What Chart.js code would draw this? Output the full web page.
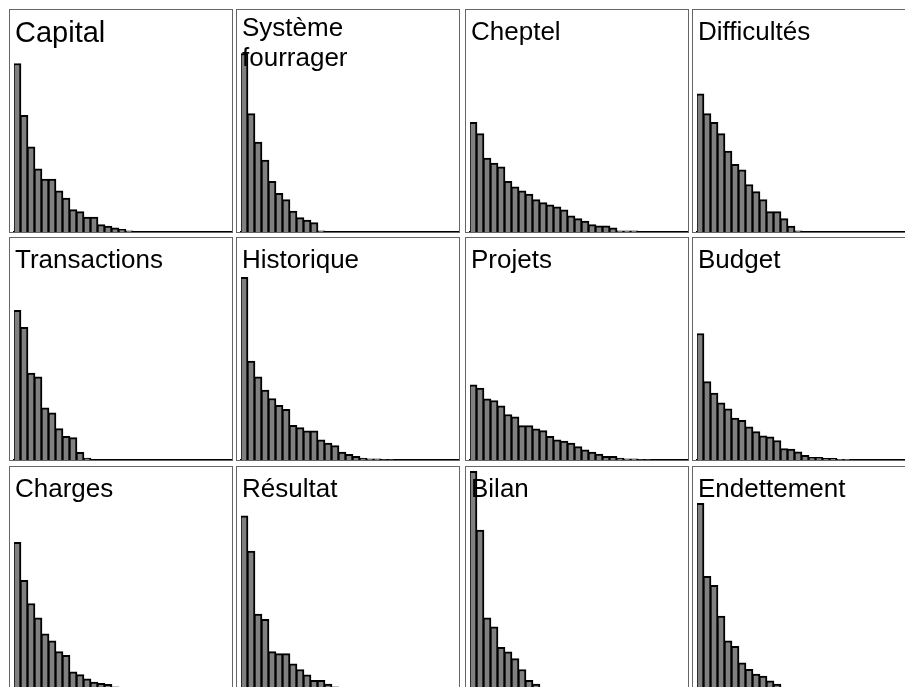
<!DOCTYPE html>
<html>
<head>
<meta charset="utf-8">
<script src="https://cdn.jsdelivr.net/npm/chart.js@4.4.0/dist/chart.umd.min.js"></script>
<style>
  html, body { margin: 0; padding: 0; background: #fff; overflow: hidden; }
  body { width: 905px; height: 687px; position: relative; }
  .panel { position: absolute; width: 224px; height: 224px; box-sizing: border-box; border: 1px solid #666; }
  .panel canvas { position: absolute; left: 0; top: 0; }
  .label { position: absolute; left: 5px; top: 6px; font-family: "Liberation Sans", Arial, sans-serif;
           font-size: 26px; line-height: 30px; color: #000; white-space: nowrap; pointer-events: none; }
  .label.big { font-size: 29px; line-height: 33px; top: 6px; }
  .label.two { top: 2px; }
</style>
</head>
<body>
<script>
// eigenvalues of each table, as a share of the common y range
const ranks = Array.from({ length: 31 }, (_, i) => String(i + 1));

const capital = [0.759, 0.525, 0.384, 0.284, 0.238, 0.238, 0.186, 0.153, 0.101, 0.092, 0.067, 0.067, 0.033, 0.027, 0.019, 0.012, 0.005];
const systemeFourrager = [0.804, 0.533, 0.405, 0.324, 0.228, 0.174, 0.146, 0.094, 0.065, 0.054, 0.042, 0.005];
const cheptel = [0.494, 0.443, 0.333, 0.310, 0.293, 0.228, 0.204, 0.186, 0.171, 0.146, 0.132, 0.122, 0.113, 0.100, 0.073, 0.060, 0.049, 0.033, 0.028, 0.028, 0.019, 0.005, 0.005, 0.005];
const difficultes = [0.622, 0.533, 0.494, 0.443, 0.365, 0.305, 0.280, 0.214, 0.182, 0.146, 0.092, 0.092, 0.060, 0.027, 0.005];
const transactions = [0.674, 0.598, 0.391, 0.375, 0.235, 0.213, 0.141, 0.107, 0.101, 0.034, 0.009];
const historique = [0.823, 0.446, 0.375, 0.315, 0.277, 0.246, 0.228, 0.156, 0.146, 0.131, 0.131, 0.091, 0.076, 0.065, 0.036, 0.025, 0.016, 0.009, 0.005, 0.005, 0.002, 0.002];
const projets = [0.339, 0.324, 0.275, 0.268, 0.244, 0.205, 0.195, 0.155, 0.155, 0.140, 0.132, 0.107, 0.091, 0.085, 0.076, 0.060, 0.046, 0.036, 0.027, 0.016, 0.016, 0.009, 0.005, 0.005, 0.002, 0.002];
const budget = [0.570, 0.353, 0.302, 0.257, 0.231, 0.189, 0.179, 0.149, 0.128, 0.109, 0.104, 0.088, 0.052, 0.049, 0.037, 0.021, 0.012, 0.012, 0.007, 0.007, 0.003, 0.003];
const charges = [0.661, 0.490, 0.385, 0.321, 0.249, 0.217, 0.168, 0.152, 0.077, 0.065, 0.046, 0.031, 0.025, 0.021, 0.010, 0.005];
const resultat = [0.780, 0.621, 0.338, 0.314, 0.168, 0.159, 0.159, 0.113, 0.088, 0.064, 0.039, 0.039, 0.022, 0.010, 0.005];
const bilan = [0.981, 0.716, 0.321, 0.280, 0.188, 0.167, 0.137, 0.088, 0.039, 0.022, 0.008];
const endettement = [0.836, 0.507, 0.467, 0.329, 0.217, 0.192, 0.118, 0.089, 0.067, 0.058, 0.037, 0.022, 0.008];

const titles = ["Capital", "Système fourrager", "Cheptel", "Difficultés",
                "Transactions", "Historique", "Projets", "Budget",
                "Charges", "Résultat", "Bilan", "Endettement"];
const series = [capital, systemeFourrager, cheptel, difficultes,
                transactions, historique, projets, budget,
                charges, resultat, bilan, endettement];

const colLeft = [9, 236, 465, 692];
const rowTop = [9, 237, 466];

function makePanel(index) {
  const panel = document.createElement("div");
  panel.className = "panel";
  panel.style.left = colLeft[index % 4] + "px";
  panel.style.top = rowTop[Math.floor(index / 4)] + "px";

  const canvas = document.createElement("canvas");
  canvas.width = 222;
  canvas.height = 222;
  panel.appendChild(canvas);

  const label = document.createElement("div");
  label.className = "label";
  if (index === 0) label.classList.add("big");
  if (titles[index].includes(" ")) {
    label.classList.add("two");
    label.innerHTML = titles[index].replace(" ", "<br>");
  } else {
    label.textContent = titles[index];
  }
  panel.appendChild(label);
  document.body.appendChild(panel);

  new Chart(canvas, {
    type: "bar",
    data: {
      labels: ranks,
      datasets: [{
        data: series[index],
        backgroundColor: "#808080",
        borderColor: "#000",
        borderWidth: { top: 2, left: 1, right: 2, bottom: 0 },
        categoryPercentage: 1,
        barPercentage: 1
      }]
    },
    options: {
      responsive: false,
      animation: false,
      events: [],
      // 31 bars of 7px each
      layout: { padding: { left: 4, right: 1, top: 0, bottom: 0 } },
      plugins: { legend: { display: false }, tooltip: { enabled: false } },
      scales: {
        x: {
          display: true,
          grid: { display: false, drawTicks: false },
          ticks: { display: false },
          border: { display: true, color: "#000", width: 2 }
        },
        y: { display: false, min: 0, max: 1 }
      }
    }
  });
}

titles.forEach((_, i) => makePanel(i));
</script>
</body>
</html>
